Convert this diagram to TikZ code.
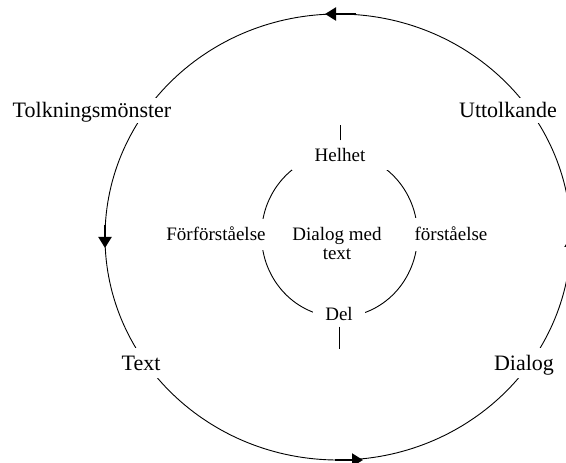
\documentclass[tikz,border=0pt]{standalone}
\usepackage{fontspec}
\setmainfont{Liberation Serif}
\usetikzlibrary{arrows.meta}
\begin{document}
\begin{tikzpicture}[x=1bp,y=-1bp,
  outerlbl/.style={fill=white, inner xsep=2bp, inner ysep=3bp, text height=17bp, text depth=2bp, anchor=base, font=\fontsize{22bp}{24bp}\selectfont},
  innerlbl/.style={fill=white, inner xsep=2bp, inner ysep=0bp, text height=14bp, text depth=1bp, anchor=base, font=\fontsize{19bp}{21bp}\selectfont},
  centerlbl/.style={align=center, inner sep=0bp, font=\fontsize{19bp}{19bp}\selectfont},
  ring/.style={line width=0.9bp},
  flow/.style={line width=2bp, -{Triangle[length=11bp,width=13bp]}},
  tickline/.style={line width=1bp}]
\useasboundingbox (0,0) rectangle (566,463);
\clip (0,0) rectangle (566,463);
% outer cycle
\draw[ring] (338,237) ellipse [x radius=233bp, y radius=223bp];
\coordinate (topA) at (356,14);  \coordinate (topB) at (325,14);
\coordinate (lefA) at (105,225); \coordinate (lefB) at (105,248);
\coordinate (botA) at (335,460); \coordinate (botB) at (363,460);
\coordinate (rigA) at (571,250); \coordinate (rigB) at (571,236);
\draw[flow] (topA) -- (topB);
\draw[flow] (lefA) -- (lefB);
\draw[flow] (botA) -- (botB);
\draw[flow] (rigA) -- (rigB);
\node[outerlbl] (tolk) at (92,118) {Tolkningsmönster};
\node[outerlbl] (utt) at (508,118) {Uttolkande};
\node[outerlbl, minimum height=30bp] (txt) at (141,370) {Text};
\node[outerlbl, minimum height=30bp] (dia) at (524,370) {Dialog};
% inner cycle
\draw[ring] (339.5,235) ellipse [x radius=78bp, y radius=82bp];
\node[innerlbl, minimum width=96bp, minimum height=30bp] (hel) at (340,162) {Helhet};
\node[innerlbl, minimum width=52bp, minimum height=26bp] (del) at (339,320) {Del};
\node[innerlbl, minimum height=31bp] (forf) at (216,241) {Förförståelse};
\node[innerlbl, minimum height=33bp] (forst) at (451,241) {förståelse};
\node[centerlbl] (dmt) at (337,244) {Dialog med\\text};
\draw[tickline] (hel.north) -- ++(0,-15);
\draw[tickline] (del.south) -- ++(0,22);
\end{tikzpicture}
\end{document}
